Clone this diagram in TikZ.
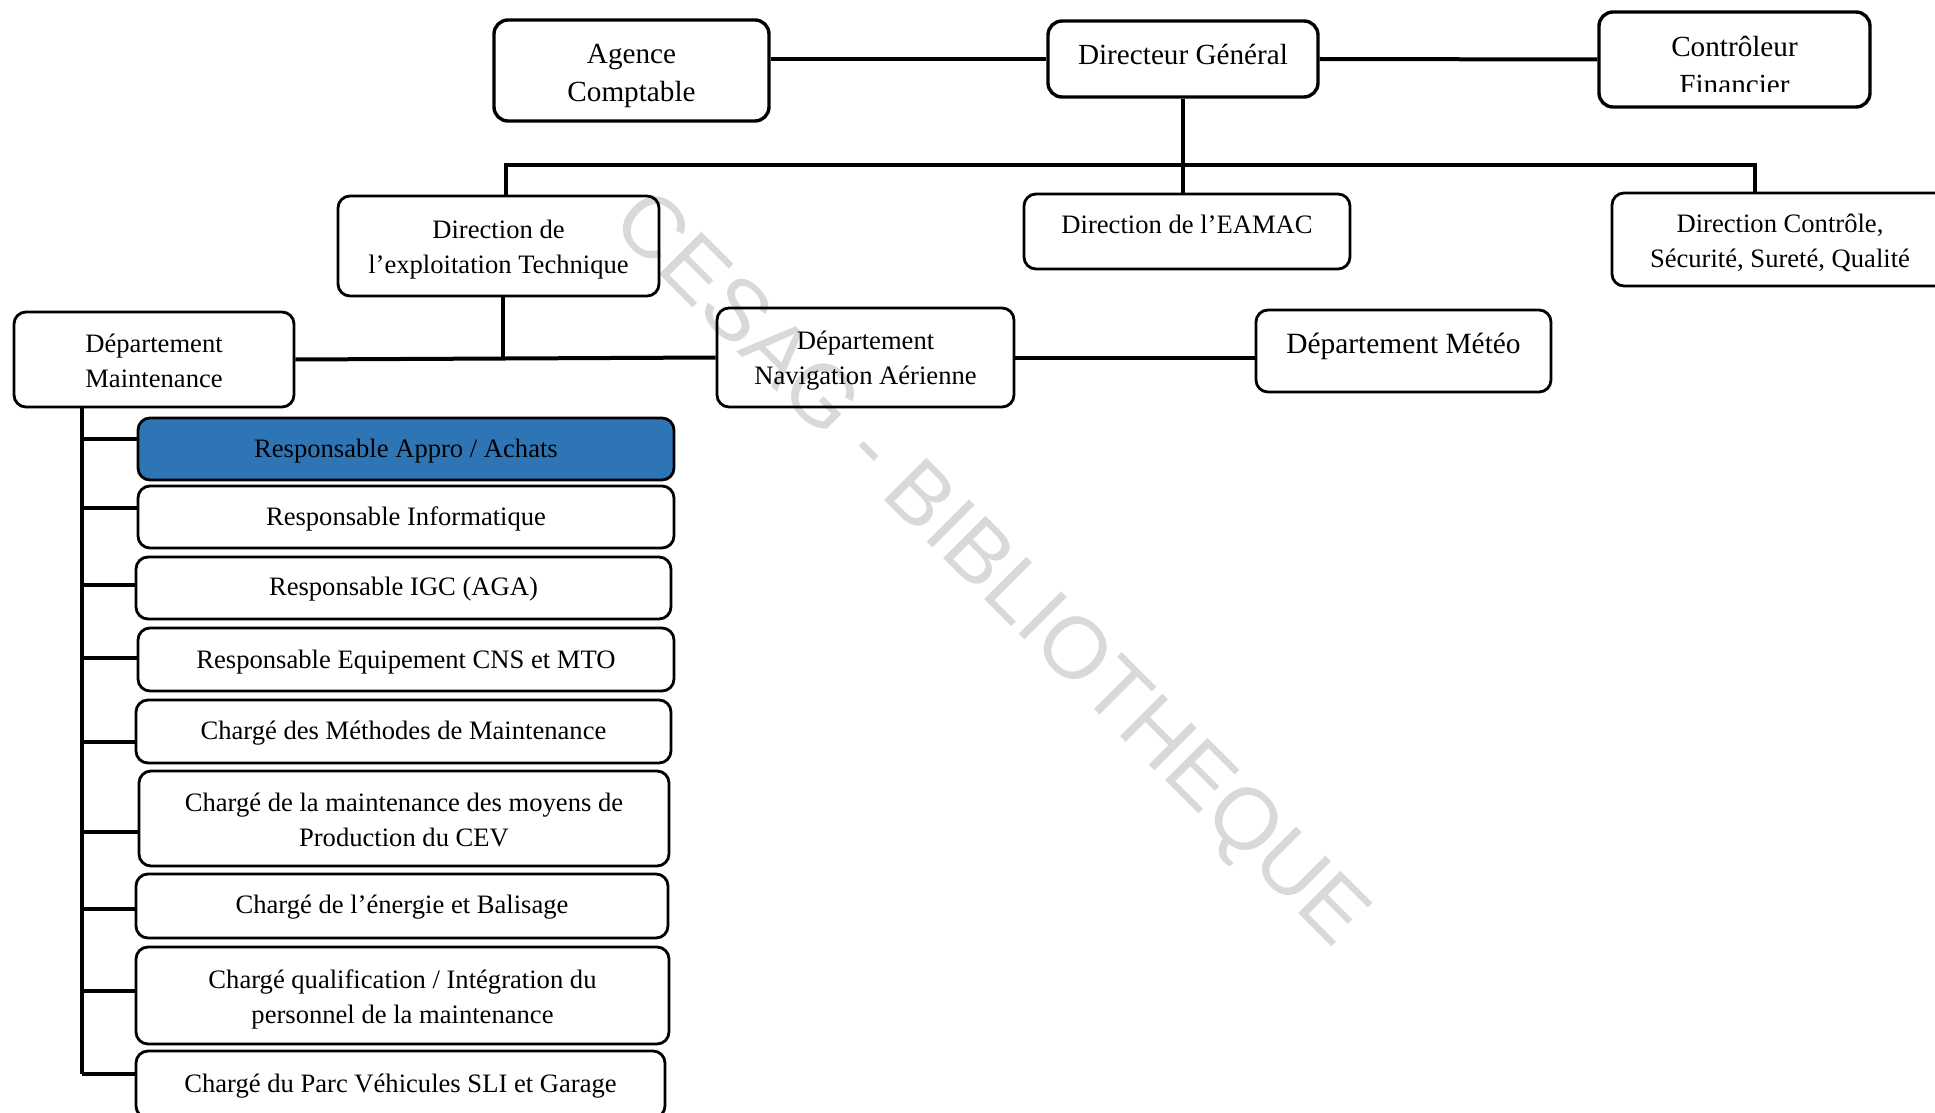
\documentclass[tikz,border=0pt]{standalone}
\usepackage{fontspec}
\setmainfont{Liberation Serif}
\newfontfamily\wmfont{Liberation Sans}
\definecolor{wmgray}{HTML}{D9D9D9}
\definecolor{achatblue}{HTML}{2E75B6}
\begin{document}
\begin{tikzpicture}[x=0.5pt,y=-0.5pt,
  box/.style={draw, line width=1.4pt, rounded corners=6pt, inner sep=0pt},
  topbox/.style={box, line width=1.7pt, rounded corners=7pt},
  btext/.style={align=center, inner sep=0pt, font=\fontsize{13.3}{17.5}\selectfont},
  toptext/.style={align=center, inner sep=0pt, font=\fontsize{14.6}{19}\selectfont},
  link/.style={line width=2pt},
  stub/.style={line width=2.2pt},
]
\path[use as bounding box, clip] (0,0) rectangle (1935,1113);

% watermark, under the frames and texts
\node[rotate=-45, text=wmgray, inner sep=0pt,
  font=\wmfont\fontsize{43.5}{44}\selectfont] (wmark) at (988,572) {CESAG - BIBLIOTHEQUE};

% ---- top row
\node[topbox, minimum width=137.5pt, minimum height=50.5pt,
  label={[toptext, yshift=-2.5pt]center:Agence\\Comptable}] (AC) at (631.5,70.5) {};
\node[topbox, minimum width=135pt, minimum height=38pt,
  label={[toptext, yshift=2.5pt]center:Directeur Général}] (DG) at (1183,59) {};
\node[topbox, minimum width=135.5pt, minimum height=47.5pt] (CF) at (1734.5,59.5) {};
\begin{scope}
  \clip (1600,14) rectangle (1868,92);
  \node[toptext] (CFt) at (1734.5,65) {Contrôleur\\Financier};
\end{scope}

% ---- directions
\node[box, minimum width=160.5pt, minimum height=50pt,
  label={[btext, yshift=-1.8pt]center:Direction de\\l’exploitation Technique}] (DE) at (498.5,246) {};
\node[box, minimum width=163pt, minimum height=37.5pt,
  label={[btext, yshift=3.75pt]center:Direction de l’EAMAC}] (EAMAC) at (1187,231.5) {};
\node[box, minimum width=168pt, minimum height=46.5pt,
  label={[btext, yshift=-1.8pt]center:Direction Contrôle,\\Sécurité, Sureté, Qualité}] (DCSSQ) at (1780,239.5) {};

% ---- departments
\node[box, minimum width=140pt, minimum height=47.5pt,
  label={[btext, yshift=-0.9pt]center:Département\\Maintenance}] (DM) at (154,359.5) {};
\node[box, minimum width=148.5pt, minimum height=49.5pt,
  label={[btext, yshift=-1.8pt]center:Département\\Navigation Aérienne}] (DNA) at (865.5,357.5) {};
\node[box, minimum width=147.5pt, minimum height=41pt,
  label={[toptext, font=\fontsize{14.7}{19}\selectfont, yshift=2.5pt]center:Département Météo}] (MET) at (1403.5,351) {};

% ---- maintenance staff
\node[box, fill=achatblue, minimum width=268pt, minimum height=31pt,
  label={[btext, yshift=-1.2pt]center:Responsable Appro / Achats}] (R1) at (406,449) {};
\node[box, minimum width=268pt, minimum height=31pt,
  label={[btext, yshift=-1.2pt]center:Responsable Informatique}] (R2) at (406,517) {};
\node[box, minimum width=267.5pt, minimum height=31pt,
  label={[btext, yshift=-0.8pt]center:Responsable IGC (AGA)}] (R3) at (403.5,588) {};
\node[box, minimum width=268pt, minimum height=31.5pt,
  label={[btext, yshift=-1.2pt]center:Responsable Equipement CNS et MTO}] (R4) at (406,659.5) {};
\node[box, minimum width=267.5pt, minimum height=31.5pt,
  label={[btext, yshift=-0.8pt]center:Chargé des Méthodes de Maintenance}] (R5) at (403.5,731.5) {};
\node[box, minimum width=265pt, minimum height=47.5pt,
  label={[btext, yshift=-0.8pt]center:Chargé de la maintenance des moyens de\\Production du CEV}] (R6) at (404,818.5) {};
\node[box, minimum width=266pt, minimum height=32pt,
  label={[btext, yshift=-0.8pt]center:Chargé de l’énergie et Balisage}] (R7) at (402,906) {};
\node[box, minimum width=266.5pt, minimum height=48.5pt,
  label={[btext, yshift=-1.8pt]center:Chargé qualification / Intégration du\\personnel de la maintenance}] (R8) at (402.5,995.5) {};
\node[box, minimum width=264.5pt, minimum height=33.5pt,
  label={[btext, yshift=-0.8pt]center:Chargé du Parc Véhicules SLI et Garage}] (R9) at (400.5,1084.5) {};

% ---- connectors, top level
\draw[link] (AC.east |- DG.west) -- (DG.west);
\draw[link] (DG.east) -- (CF.west);
\coordinate (busL) at (506,165);
\coordinate (busR) at (1755,165);
\draw[link] (DG.south) -- (DG.south |- EAMAC.north);
\draw[link] (busL |- DE.north) -- (busL) -- (busR) -- (busR |- DCSSQ.north);

% ---- connectors, departments
\coordinate (jDE) at (503,358);
\draw[link] (jDE |- DE.south) -- (jDE);
\draw[link] (DM.east) -- (DNA.west);
\draw[link] (DNA.east) -- (DNA.east -| MET.west);

% ---- spine and stubs to the staff boxes
\foreach \i/\y in {1/439,2/508,3/585,4/658,5/742,6/832,7/909,8/991,9/1074}
  \coordinate (s\i) at (82,\y);
\draw[link] (s9 |- DM.south) -- (s9);
\foreach \i in {1,...,9}
  \draw[stub] (s\i) -- (s\i -| R\i.west);
\end{tikzpicture}
\end{document}
